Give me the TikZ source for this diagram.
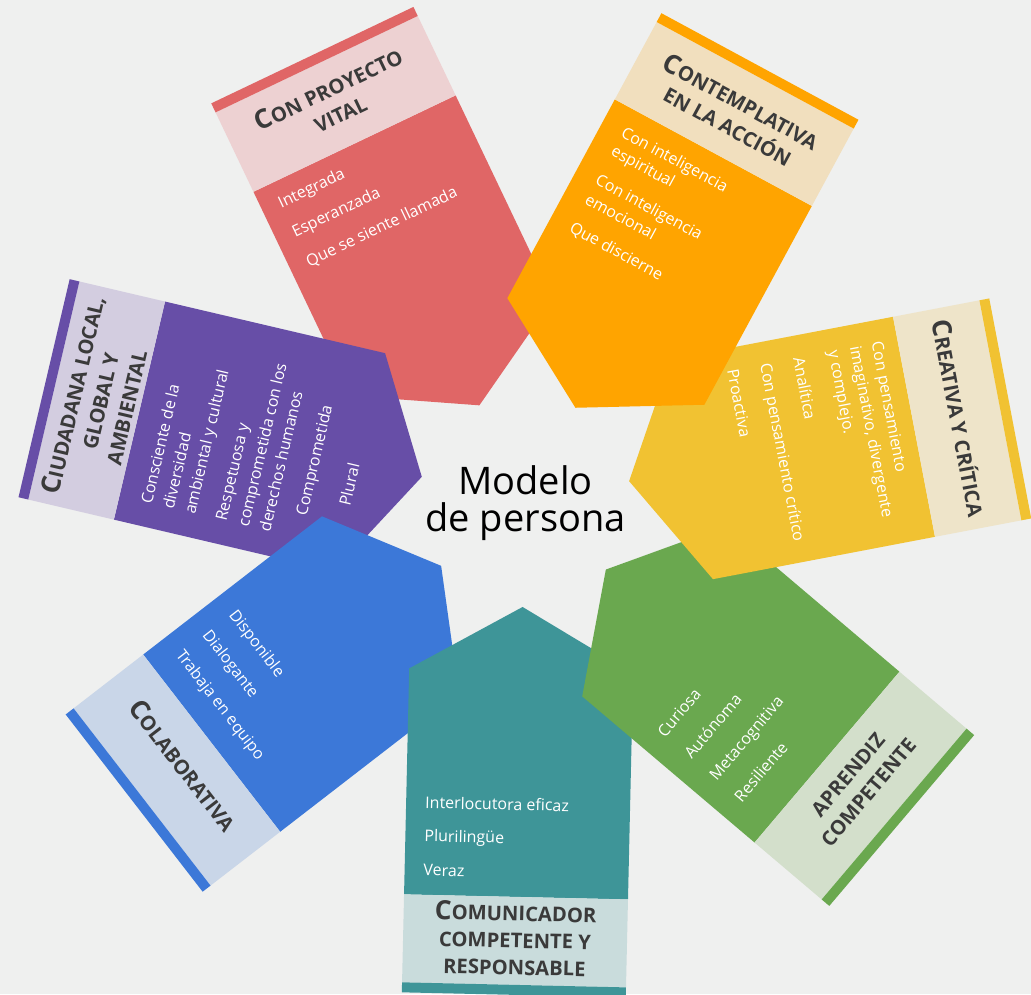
\documentclass[tikz,border=0pt]{standalone}
\usepackage{fontspec}
\setmainfont{Open Sans}
\definecolor{bg}{HTML}{EFF0EF}
\definecolor{ttlc}{HTML}{3A3A3A}
\definecolor{redA}{HTML}{E06666}\definecolor{redB}{HTML}{EDD1D2}
\definecolor{oraA}{HTML}{FFA400}\definecolor{oraB}{HTML}{F1DFBE}
\definecolor{yelA}{HTML}{F1C232}\definecolor{yelB}{HTML}{EEE4C9}
\definecolor{grnA}{HTML}{6AA84F}\definecolor{grnB}{HTML}{D3DFCB}
\definecolor{tealA}{HTML}{3E9598}\definecolor{tealB}{HTML}{C9DCDC}
\definecolor{bluA}{HTML}{3C78D8}\definecolor{bluB}{HTML}{C9D6E8}
\definecolor{purA}{HTML}{674EA7}\definecolor{purB}{HTML}{D3CDE0}
\newcommand{\petalshape}[2]{%
  \fill[#1] (0,0) -- (64,112) -- (290,112) -- (290,-112) -- (64,-112) -- cycle;
  \fill[#2] (290,-112) rectangle (378,112);
  \fill[#1] (378,-112) rectangle (388,112);}
\newcommand{\firstcap}[1]{{\fontsize{26.5}{27}\selectfont #1}}
\tikzset{
  item/.style={text=white, font=\fontsize{16}{19}\selectfont, inner sep=0pt, anchor=base west},
  ttl/.style={text=ttlc, font=\bfseries\fontsize{20.2}{27}\selectfont, align=center, inner sep=0pt, anchor=center},
  petal/.style={xshift=525pt, yshift=-501pt, rotate=#1, xshift=106pt}
}
\begin{document}
\begin{tikzpicture}[x=1pt,y=1pt]
\useasboundingbox (0,0) rectangle (1031,-994);
\fill[bg] (0,0) rectangle (1031,-994);
\clip (0,0) rectangle (1031,-994);

% red: Con proyecto vital
\begin{scope}[petal=115.5]
  \petalshape{redA}{redB}
  \node[ttl, rotate=25.5] (rt) at (338,0) {\firstcap{C}ON PROYECTO\\VITAL};
  \node[item, rotate=25.5] (r1) at (263,94) {Integrada};
  \node[item, rotate=25.5] (r2) at (231,94) {Esperanzada};
  \node[item, rotate=25.5] (r3) at (198,94) {Que se siente llamada};
\end{scope}

% purple: Ciudadana
\begin{scope}[petal=166.8]
  \petalshape{purA}{purB}
  \node[ttl, rotate=76.8] (pt) at (332,0) {\firstcap{C}IUDADANA LOCAL,\\GLOBAL Y\\AMBIENTAL};
  \node[item, rotate=76.8] (p1) at (256.5,89) {Consciente de la};
  \node[item, rotate=76.8] (p2) at (234,89) {diversidad};
  \node[item, rotate=76.8] (p3) at (212,89) {ambiental y cultural};
  \node[item, rotate=76.8] (p4) at (180,88.5) {Respetuosa y};
  \node[item, rotate=76.8] (p5) at (157,89) {comprometida con los};
  \node[item, rotate=76.8] (p6) at (135,89) {derechos humanos};
  \node[item, rotate=76.8] (p7) at (103,65) {Comprometida};
  \node[item, rotate=76.8] (p8) at (63,45.5) {Plural};
\end{scope}

% blue: Colaborativa
\begin{scope}[petal=217.7]
  \petalshape{bluA}{bluB}
  \node[ttl, rotate=307.7] (bt) at (326,0) {\firstcap{C}OLABORATIVA};
  \node[item, rotate=307.7] (b1) at (198.5,-91.2) {Disponible};
  \node[item, rotate=307.7] (b2) at (231.7,-91.6) {Dialogante};
  \node[item, rotate=307.7] (b3) at (265,-92.1) {Trabaja en equipo};
\end{scope}

% teal: Comunicador
\begin{scope}[petal=-91.3]
  \petalshape{tealA}{tealB}
  \node[ttl, rotate=-1.3] (tt) at (331.5,0) {\firstcap{C}OMUNICADOR\\COMPETENTE Y\\RESPONSABLE};
  \node[item, rotate=-1.3] (t1) at (203.4,-93) {Interlocutora eficaz};
  \node[item, rotate=-1.3] (t2) at (236.8,-93) {Plurilingüe};
  \node[item, rotate=-1.3] (t3) at (270.9,-93.2) {Veraz};
\end{scope}

% green: Aprendiz competente
\begin{scope}[petal=-40.3]
  \petalshape{grnA}{grnB}
  \node[ttl, rotate=49.7] (gt) at (331,0) {APRENDIZ\\COMPETENTE};
  \node[item, rotate=49.7] (g1) at (154.3,-90.4) {Curiosa};
  \node[item, rotate=49.7] (g2) at (188.7,-89.6) {Autónoma};
  \node[item, rotate=49.7] (g3) at (221.8,-90.1) {Metacognitiva};
  \node[item, rotate=49.7] (g4) at (254.9,-90.3) {Resiliente};
\end{scope}

% yellow: Creativa y critica
\begin{scope}[petal=10.8]
  \petalshape{yelA}{yelB}
  \node[ttl, rotate=-79.2] (yt) at (336,0) {\firstcap{C}REATIVA Y CRÍTICA};
  \node[item, rotate=-79.2] (y1) at (264,90.5) {Con pensamiento};
  \node[item, rotate=-79.2] (y2) at (242,90.5) {imaginativo, divergente};
  \node[item, rotate=-79.2] (y3) at (220,90.5) {y complejo.};
  \node[item, rotate=-79.2] (y4) at (184,90) {Analítica};
  \node[item, rotate=-79.2] (y5) at (150.5,90.5) {Con pensamiento crítico};
  \node[item, rotate=-79.2] (y6) at (117,90.5) {Proactiva};
\end{scope}

% orange: Contemplativa
\begin{scope}[petal=61.6]
  \petalshape{oraA}{oraB}
  \node[ttl, rotate=-28.4] (ot) at (335,0) {\firstcap{C}ONTEMPLATIVA\\EN LA ACCIÓN};
  \node[item, rotate=-28.4] (o1) at (260,90) {Con inteligencia};
  \node[item, rotate=-28.4] (o2) at (239,90) {espiritual};
  \node[item, rotate=-28.4] (o3) at (206,90) {Con inteligencia};
  \node[item, rotate=-28.4] (o4) at (184,90) {emocional};
  \node[item, rotate=-28.4] (o5) at (152,90) {Que discierne};
\end{scope}

\node[font=\fontsize{38}{37}\selectfont, align=center, inner sep=0pt, text=black] (center) at (525.5,-503.5) {Modelo\\de persona};
\end{tikzpicture}
\end{document}
